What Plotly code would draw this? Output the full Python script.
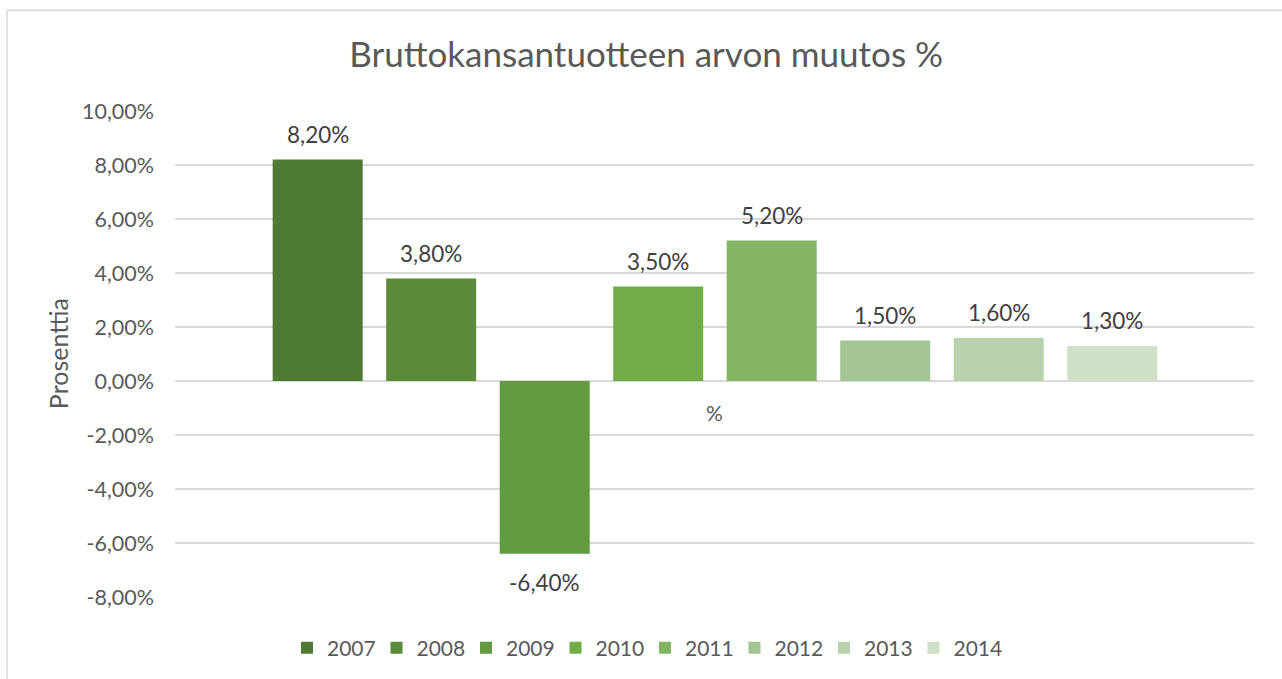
import plotly.graph_objects as go

years = ["2007", "2008", "2009", "2010", "2011", "2012", "2013", "2014"]
values = [8.2, 3.8, -6.4, 3.5, 5.2, 1.5, 1.6, 1.3]
colors = ["#4e7a31", "#5a8a3a", "#629b3f", "#70ad47", "#83b565", "#a3c591", "#b8d3ab", "#d0e0c6"]
category_label = "%"
title_text = "Bruttokansantuotteen arvon muutos %"
y_title = "Prosenttia"
y_ticks = [-8, -6, -4, -2, 0, 2, 4, 6, 8, 10]

FONT = "Lato"


def fmt(v):
    return f"{v:.2f}".replace(".", ",") + "%"


fig = go.Figure()
for yr, v, c in zip(years, values, colors):
    fig.add_trace(go.Bar(x=[yr], y=[v], name=yr, marker=dict(color=c, line=dict(width=0)),
                         hoverinfo="skip"))

annotations = []
for i, v in enumerate(values):
    annotations.append(dict(x=i, y=v, xref="x", yref="y", text=fmt(v), showarrow=False,
                            yshift=25 if v >= 0 else -29, yanchor="middle",
                            font=dict(family=FONT, size=22.5, color="#404040")))
annotations.append(dict(x=(len(years) - 1) / 2, y=0, xref="x", yref="y", text=category_label,
                        showarrow=False, yshift=-31, yanchor="middle",
                        font=dict(family=FONT, size=21, color="#595959")))
annotations.append(dict(x=-0.1083, y=0.5, xref="paper", yref="paper", text=y_title, showarrow=False,
                        textangle=-90, xanchor="center", yanchor="middle",
                        font=dict(family=FONT, size=25, color="#595959")))

fig.update_layout(
    width=1282, height=679,
    margin=dict(l=175, r=28, t=111, b=81),
    paper_bgcolor="white", plot_bgcolor="white",
    barmode="overlay", bargap=0.207,
    title=dict(text=title_text, x=0.504, xref="container", xanchor="center",
               y=1 - 55 / 679, yref="container", yanchor="middle",
               font=dict(family=FONT, size=35, color="#595959")),
    xaxis=dict(type="category", range=[-1.257, 8.249], showticklabels=False, showgrid=False,
               zeroline=False, showline=False, ticks=""),
    yaxis=dict(range=[-8, 10], tickmode="array", tickvals=y_ticks,
               ticktext=[fmt(t) for t in y_ticks],
               showgrid=True, gridcolor="#d9d9d9", gridwidth=1.5,
               zeroline=True, zerolinecolor="#d9d9d9", zerolinewidth=1.5,
               showline=False, ticks="", ticklabelstandoff=20,
               tickfont=dict(family=FONT, size=21.5, color="#595959")),
    legend=dict(orientation="h", x=(645 - 175) / 1079, xanchor="center", xref="paper",
                y=(598 - 648) / 487, yanchor="middle", yref="paper",
                entrywidth=44.5, entrywidthmode="pixels",
                font=dict(family=FONT, size=21, color="#595959"), traceorder="normal"),
    annotations=annotations,
    shapes=[dict(type="rect", xref="paper", yref="paper",
                 x0=(7 - 175) / 1079, x1=1.2, y0=-0.5, y1=(598 - 10) / 487,
                 line=dict(color="#d9d9d9", width=1.5), fillcolor="rgba(0,0,0,0)", layer="below")],
    showlegend=True,
)

fig.write_html("out.html", config={"displayModeBar": False},
               post_script="document.body.style.margin='0';document.body.style.overflow='hidden';")
